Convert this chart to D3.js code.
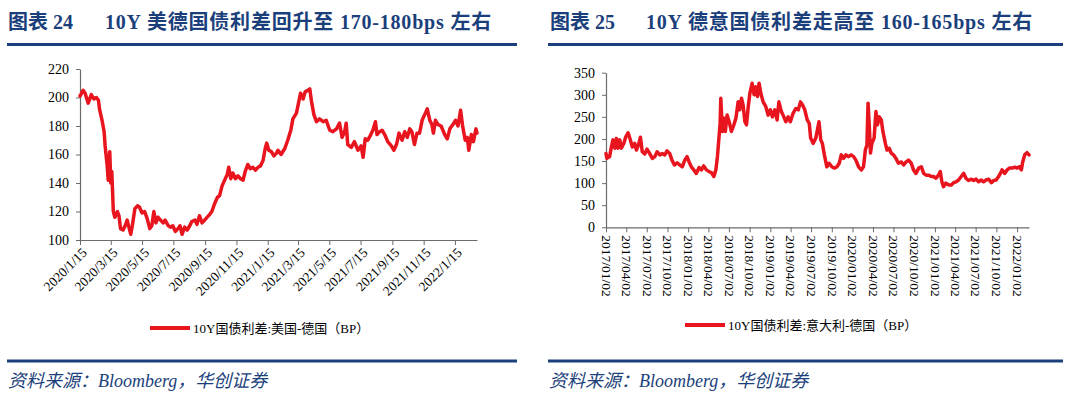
<!DOCTYPE html>
<html><head><meta charset="utf-8">
<script src="https://cdn.jsdelivr.net/npm/d3@7"></script>
<style>
html,body{margin:0;padding:0;background:#fff;}
svg{display:block;}
</style></head>
<body>
<svg id="chart" width="1070" height="399"></svg>
<script>
// ---------- Left chart: 10Y US - Germany spread ----------
const usDeTitleNo = "图表 24";
const usDeTitle = "10Y 美德国债利差回升至 170-180bps 左右";
const usDeLegend = "10Y国债利差:美国-德国（BP）";
const usDeStart = "2020-01-15";
const usDeEnd = "2022-02-27";
const usDeDayOffsets = [0,6,10,16,19,22,27,32,36,38,43,47,49,53,55,58,60,62,65,68,73,76,79,84,88,92,96,99,102,107,112,116,121,126,131,136,140,144,148,152,157,162,166,172,177,181,186,191,195,199,204,209,214,218,224,228,233,238,243,248,253,257,263,268,272,277,282,287,290,294,298,303,308,313,318,322,327,332,337,342,347,352,357,361,364,368,373,378,383,386,392,399,405,411,415,422,426,430,435,439,444,448,451,456,461,467,474,480,487,493,500,506,511,516,519,522,529,535,542,548,552,556,561,567,571,576,579,584,589,594,600,607,612,617,622,628,633,638,643,647,652,657,662,667,672,677,682,686,689,693,698,704,711,716,721,727,732,737,742,746,751,755,758,763,767,772,774];
const usDeSpread = [201,205,203,196,199,202,199,200,198,192,184,176,166,152,142,162,140,148,120,116,120,117,108,107,110,114,108,104,110,122,124,123,119,120,115,108,110,120,112,116,114,112,114,110,109,110,106,108,110,104,109,107,110,113,114,111,117,112,114,116,118,120,126,130,131,138,142,146,151,143,147,143,145,143,142,148,153,150,151,149,151,152,156,164,168,163,162,159,161,163,160,164,170,177,185,189,196,203,199,204,205,206,198,188,183,185,183,184,177,176,178,182,172,176,182,167,165,169,163,166,158,171,170,174,177,183,174,176,177,174,169,166,163,167,175,170,176,172,178,176,167,175,175,184,188,192,184,181,175,184,181,180,174,171,178,181,184,180,191,180,170,172,163,174,169,178,175];
const usDeTickLabels = ["2020/1/15","2020/3/15","2020/5/15","2020/7/15","2020/9/15","2020/11/15","2021/1/15","2021/3/15","2021/5/15","2021/7/15","2021/9/15","2021/11/15","2022/1/15"];
const usDeYTicks = [100,120,140,160,180,200,220];

// ---------- Right chart: 10Y Italy - Germany spread ----------
const itDeTitleNo = "图表 25";
const itDeTitle = "10Y 德意国债利差走高至 160-165bps 左右";
const itDeLegend = "10Y国债利差:意大利-德国（BP）";
const itDeStart = "2017-01-02";
const itDeEnd = "2022-02-24";
const itDeDayOffsets = [0,4,16,24,31,39,46,53,61,68,79,88,98,108,117,128,135,144,153,161,172,182,194,206,217,227,239,250,261,271,283,293,304,316,328,339,350,360,369,379,390,401,413,424,434,446,458,468,479,488,495,501,507,510,517,525,530,538,547,557,568,577,587,594,602,609,617,624,631,639,649,658,666,673,680,688,698,710,720,730,739,750,760,768,779,790,799,809,819,831,843,854,864,873,883,894,903,909,920,932,946,954,961,970,981,991,1003,1015,1026,1036,1045,1055,1066,1077,1089,1100,1110,1122,1134,1144,1152,1159,1164,1169,1175,1181,1191,1199,1206,1214,1223,1230,1241,1248,1258,1267,1277,1288,1299,1312,1322,1333,1344,1356,1366,1377,1389,1401,1411,1422,1433,1445,1455,1466,1477,1485,1492,1499,1510,1522,1534,1544,1555,1566,1578,1589,1599,1610,1623,1633,1644,1655,1667,1677,1688,1700,1712,1722,1733,1744,1752,1759,1771,1782,1792,1804,1816,1826,1836,1845,1851,1860,1870,1879];
const itDeSpread = [167,156,160,182,198,179,201,179,198,179,190,205,214,198,182,190,175,186,204,171,166,177,167,156,160,171,164,167,164,173,167,152,141,146,141,137,152,160,148,137,130,122,135,130,139,130,126,124,115,130,160,198,235,292,217,247,217,254,239,217,232,247,284,266,292,277,239,232,269,303,326,300,318,296,326,303,284,273,254,266,250,266,243,284,262,250,239,250,239,258,269,266,284,277,266,243,235,202,190,202,239,198,190,164,137,145,137,134,137,145,164,156,164,160,164,160,152,137,130,137,175,186,281,235,168,190,202,262,232,250,243,217,190,175,179,168,164,156,145,148,141,148,152,145,130,122,134,137,122,118,118,115,115,111,118,126,103,92,100,96,96,101,103,107,115,122,111,106,109,106,109,103,107,103,107,109,101,106,107,115,122,130,122,130,134,134,136,134,137,130,148,164,169,164];
const itDeTickLabels = ["2017/01/02","2017/04/02","2017/07/02","2017/10/02","2018/01/02","2018/04/02","2018/07/02","2018/10/02","2019/01/02","2019/04/02","2019/07/02","2019/10/02","2020/01/02","2020/04/02","2020/07/02","2020/10/02","2021/01/02","2021/04/02","2021/07/02","2021/10/02","2022/01/02"];
const itDeYTicks = [0,50,100,150,200,250,300,350];

const sourceText = "资料来源：Bloomberg，华创证券";

// ---------- drawing ----------
const NAVY = "#1B3F7B";
const RED = "#E8141E";
const AXIS = "#6b6b6b";
const LATIN = "'Liberation Serif','Times New Roman','Noto Sans CJK SC',serif";

const svg = d3.select("#chart");
const parseISO = d3.timeParse("%Y-%m-%d");
const parseSlash = d3.timeParse("%Y/%m/%d");

function header(x0, x1, no, title, noX, titleX) {
  const t = svg.append("text").attr("y", 29)
    .attr("font-family", LATIN).attr("font-weight", "bold")
    .attr("font-size", 20).attr("fill", NAVY);
  t.append("tspan").attr("x", noX).text(no);
  t.append("tspan").attr("x", titleX).attr("letter-spacing", 0.8).text(title);
  svg.append("line").attr("x1", x0).attr("x2", x1).attr("y1", 44.5).attr("y2", 44.5)
    .attr("stroke", NAVY).attr("stroke-width", 3);
}

function footer(x0, x1, legendText, legY, legX) {
  svg.append("line").attr("x1", legX).attr("x2", legX + 40)
    .attr("y1", legY).attr("y2", legY)
    .attr("stroke", RED).attr("stroke-width", 4);
  svg.append("text").attr("x", legX + 43).attr("y", legY).attr("dy", "0.35em")
    .attr("font-family", LATIN).attr("font-size", 13).attr("fill", "#000")
    .text(legendText);
  svg.append("line").attr("x1", x0).attr("x2", x1).attr("y1", 361).attr("y2", 361)
    .attr("stroke", NAVY).attr("stroke-width", 3);
  svg.append("text").attr("x", x0 + 1).attr("y", 387)
    .attr("font-family", LATIN).attr("font-style", "italic")
    .attr("font-size", 18).attr("fill", NAVY).text(sourceText);
}

function panel(cfg) {
  const start = parseISO(cfg.start), end = parseISO(cfg.end);
  const x = d3.scaleTime().domain([start, end]).range([cfg.left, cfg.right]);
  const y = d3.scaleLinear().domain(cfg.yDomain).range([cfg.bottom, cfg.top]);
  const pts = cfg.offsets.map((o, i) => [d3.timeDay.offset(start, o), cfg.values[i]]);

  // y axis
  const ya = svg.append("g").attr("transform", `translate(${cfg.left},0)`)
    .call(d3.axisLeft(y).tickValues(cfg.yTicks).tickSizeInner(4).tickSizeOuter(0).tickPadding(7));
  ya.select(".domain").attr("stroke", AXIS).attr("stroke-width", 1.2);
  ya.selectAll(".tick line").attr("stroke", AXIS);
  ya.selectAll(".tick text").attr("font-family", LATIN).attr("font-size", 14).attr("fill", "#000");

  // x axis
  const tickDates = cfg.tickLabels.map(s => parseSlash(s));
  const xa = svg.append("g").attr("transform", `translate(0,${cfg.bottom})`)
    .call(d3.axisBottom(x).tickValues(tickDates).tickSizeInner(5).tickSizeOuter(0)
      .tickFormat((d, i) => cfg.tickLabels[i]));
  xa.select(".domain").attr("stroke", AXIS).attr("stroke-width", 1.2);
  xa.selectAll(".tick line").attr("stroke", AXIS);
  const tx = xa.selectAll(".tick text").attr("font-family", LATIN)
    .attr("font-size", 13.5).attr("fill", "#000");
  if (cfg.rot === -45) {
    tx.attr("text-anchor", "end").attr("y", 0).attr("dy", "0.35em")
      .attr("transform", "translate(4,10) rotate(-45)");
  } else {
    tx.attr("text-anchor", "start").attr("y", 0).attr("dy", "0.35em")
      .attr("transform", "translate(0,8) rotate(90)");
  }

  // series line
  const line = d3.line().x(d => x(d[0])).y(d => y(d[1])).curve(d3.curveLinear);
  svg.append("path").datum(pts).attr("d", line)
    .attr("fill", "none").attr("stroke", RED).attr("stroke-width", 3.5)
    .attr("stroke-linejoin", "round").attr("stroke-linecap", "round");
}

header(7, 517, usDeTitleNo, usDeTitle, 8, 105);
header(548, 1063, itDeTitleNo, itDeTitle, 550, 646);

panel({start: usDeStart, end: usDeEnd, offsets: usDeDayOffsets, values: usDeSpread,
  tickLabels: usDeTickLabels, yTicks: usDeYTicks, yDomain: [100, 220],
  left: 80, right: 477, top: 69, bottom: 240, rot: -45});
panel({start: itDeStart, end: itDeEnd, offsets: itDeDayOffsets, values: itDeSpread,
  tickLabels: itDeTickLabels, yTicks: itDeYTicks, yDomain: [0, 350],
  left: 606, right: 1029, top: 72.7, bottom: 227.3, rot: 90});

footer(7, 517, usDeLegend, 328, 150);
footer(548, 1063, itDeLegend, 325, 685);
</script>
</body></html>
